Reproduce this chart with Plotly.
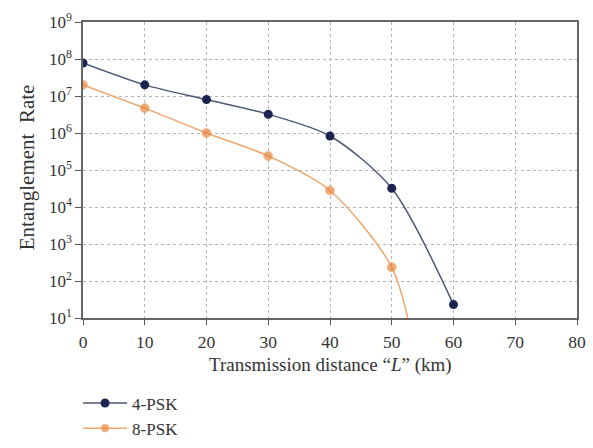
import plotly.graph_objects as go

distance_km = [0, 10, 20, 30, 40, 50, 60]
rate_4psk = [7.8e7, 2.0e7, 8.0e6, 3.2e6, 8.3e5, 3.2e4, 23]
distance_8psk = [0, 10, 20, 30, 40, 50, 53.5]
rate_8psk = [2.0e7, 4.7e6, 1.0e6, 2.4e5, 2.8e4, 235, 2]
x_ticks = [0, 10, 20, 30, 40, 50, 60, 70, 80]
y_exponents = [1, 2, 3, 4, 5, 6, 7, 8, 9]
x_title = "Transmission distance “<i>L</i>” (km)"
y_title = "Entanglement  Rate"

serif = "Liberation Serif"
fig = go.Figure()
fig.add_trace(go.Scatter(
    x=distance_km, y=rate_4psk, mode="lines+markers", name="4-PSK",
    line=dict(color="#4d5877", width=1.5, shape="spline", smoothing=0.8),
    marker=dict(color="#1c2552", size=9),
))
fig.add_trace(go.Scatter(
    x=distance_8psk, y=rate_8psk, mode="lines+markers", name="8-PSK",
    line=dict(color="#f0a56a", width=1.5, shape="spline", smoothing=0.8),
    marker=dict(color="#e8863a", size=[9, 9, 9, 9, 9, 9, 0]),
))

fig.update_layout(
    width=593, height=448,
    margin=dict(l=83, r=16, t=22, b=130, autoexpand=False),
    paper_bgcolor="white", plot_bgcolor="white",
    font=dict(family=serif, size=17, color="#333"),
    showlegend=True,
    legend=dict(x=-0.01, y=-0.228, xanchor="left", yanchor="top",
                font=dict(family=serif, size=17, color="#333"),
                tracegroupgap=0, itemwidth=44),
    annotations=[
        dict(text=x_title, xref="paper", yref="paper", x=0.5, y=-0.158,
             xanchor="center", yanchor="middle", showarrow=False,
             font=dict(family=serif, size=19, color="#333")),
        dict(text=y_title, xref="paper", yref="paper", x=-0.113, y=0.51,
             xanchor="center", yanchor="middle", showarrow=False, textangle=-90,
             font=dict(family=serif, size=21, color="#333")),
    ],
)
fig.update_xaxes(
    range=[0, 80], tickvals=x_ticks, automargin=False,
    tickfont=dict(family=serif, size=17.5, color="#333"),
    ticklabelstandoff=2,
    showgrid=True, gridcolor="#b5b5b5", griddash="dot", gridwidth=1,
    showline=True, linecolor="#666", linewidth=1.5, mirror=True,
    ticks="outside", ticklen=5, tickcolor="#555",
    zeroline=False,
)
fig.update_yaxes(
    type="log", range=[1, 9], automargin=False,
    tickvals=[10 ** e for e in y_exponents],
    ticktext=[f"10<sup>{e}</sup>" for e in y_exponents],
    tickfont=dict(family=serif, size=17, color="#333"),
    showgrid=True, gridcolor="#b5b5b5", griddash="dot", gridwidth=1,
    showline=True, linecolor="#666", linewidth=1.5, mirror=True,
    ticks="outside", ticklen=6, tickcolor="#555",
    zeroline=False,
)

fig.write_html("out.html", config={"displayModeBar": False},
               post_script="document.body.style.margin='0';")
